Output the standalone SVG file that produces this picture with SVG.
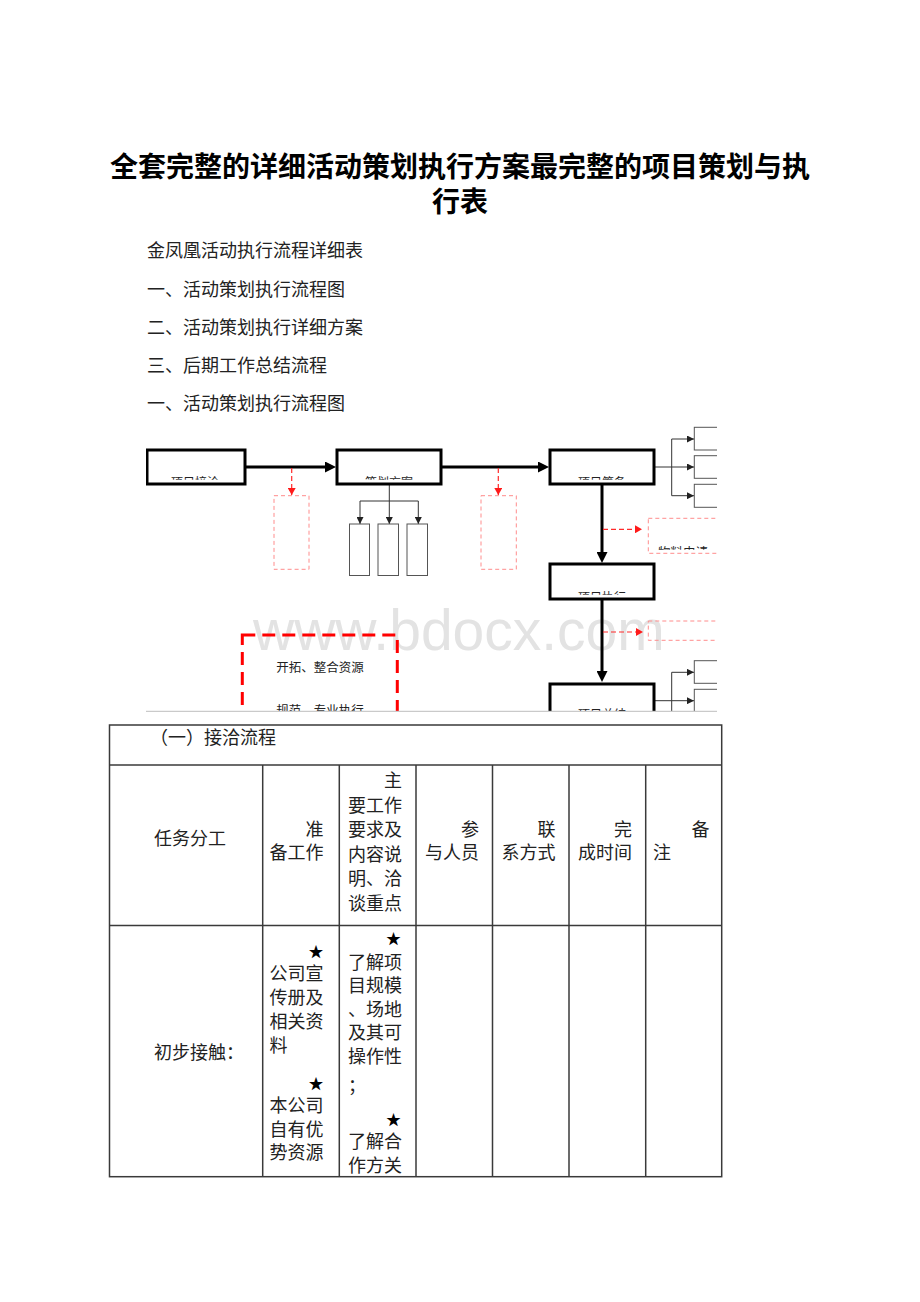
<svg xmlns="http://www.w3.org/2000/svg" width="920" height="1302" viewBox="0 0 920 1302">
<style>
.cjk{font-family:"Noto Sans CJK SC","Noto Sans",sans-serif;}
.title{font-size:28px;font-weight:700;fill:#000;text-anchor:middle;}
.body{font-size:18px;fill:#222;}
.td{font-size:18px;fill:#222;}
.end{text-anchor:end;}
.star{font-size:15px;fill:#000;text-anchor:end;}
.box{fill:#fff;stroke:#000;stroke-width:3;}
.sbox{fill:#fff;stroke:#555;stroke-width:1;}
.rbox{fill:none;stroke:#ff8c8c;stroke-width:1;stroke-dasharray:4 3;}
.bigr{fill:none;stroke:#ff0000;stroke-width:3;stroke-dasharray:13 7;}
.thick{stroke:#000;stroke-width:3;fill:none;}
.thin{stroke:#333;stroke-width:1;fill:none;}
.rdash{stroke:#ff2a2a;stroke-width:1.2;stroke-dasharray:5 3;fill:none;}
.btxt{font-size:12px;fill:#222;text-anchor:middle;}
.rtxt{font-size:12.5px;fill:#222;text-anchor:middle;}
.grid{stroke:#3a3a3a;stroke-width:1.5;fill:none;}
</style>
<defs>
<marker id="mThick" markerUnits="userSpaceOnUse" markerWidth="11" markerHeight="11" refX="6" refY="5.5" orient="auto"><path d="M0,0 L11,5.5 L0,11 z" fill="#000"/></marker>
<marker id="mThin" markerUnits="userSpaceOnUse" markerWidth="7" markerHeight="7" refX="7" refY="3.5" orient="auto"><path d="M0,0 L7,3.5 L0,7 z" fill="#222"/></marker>
<marker id="mRed" markerUnits="userSpaceOnUse" markerWidth="7" markerHeight="8" refX="7" refY="4" orient="auto"><path d="M0,0 L7,4 L0,8 z" fill="#ff1a1a"/></marker>
<clipPath id="clipFlow"><rect x="146" y="400" width="571" height="311"/></clipPath>
<clipPath id="cb1"><rect x="148" y="451" width="96" height="28.8"/></clipPath>
<clipPath id="cb2"><rect x="338" y="451" width="102" height="28.8"/></clipPath>
<clipPath id="cb3"><rect x="551" y="451" width="102" height="28.8"/></clipPath>
<clipPath id="cb4"><rect x="551" y="565" width="102" height="29.8"/></clipPath>
<clipPath id="cb5"><rect x="551" y="685" width="102" height="40"/></clipPath>
<clipPath id="crb3"><rect x="649" y="519" width="80" height="30.8"/></clipPath>
</defs>
<rect width="920" height="1302" fill="#fff"/>

<g id="header-text" class="cjk">
<text class="title" x="460" y="177">全套完整的详细活动策划执行方案最完整的项目策划与执</text>
<text class="title" x="460" y="212">行表</text>
<text class="body" x="147" y="257">金凤凰活动执行流程详细表</text>
<text class="body" x="147" y="295.5">一、活动策划执行流程图</text>
<text class="body" x="147" y="333.5">二、活动策划执行详细方案</text>
<text class="body" x="147" y="371.5">三、后期工作总结流程</text>
<text class="body" x="147" y="409.5">一、活动策划执行流程图</text>
</g>

<g id="flowchart" clip-path="url(#clipFlow)">
<text id="watermark" x="253" y="650" font-family="Liberation Sans, Arial, sans-serif" font-size="57" fill="#e3e3e3">www.bdocx.com</text>

<g id="connectors">
<line class="thick" x1="246" y1="467" x2="331" y2="467" marker-end="url(#mThick)"/>
<line class="thick" x1="442" y1="467" x2="544" y2="467" marker-end="url(#mThick)"/>
<line class="thick" x1="602" y1="485" x2="602" y2="558" marker-end="url(#mThick)"/>
<line class="thick" x1="602" y1="600" x2="602" y2="677" marker-end="url(#mThick)"/>
<line class="rdash" x1="291.7" y1="468" x2="291.7" y2="495" marker-end="url(#mRed)"/>
<line class="rdash" x1="498.3" y1="468" x2="498.3" y2="495" marker-end="url(#mRed)"/>
<line class="rdash" x1="603" y1="529.3" x2="642" y2="529.3" marker-end="url(#mRed)"/>
<line class="rdash" x1="603" y1="632" x2="643" y2="632" marker-end="url(#mRed)"/>
<polyline class="thin" points="389.3,485 389.3,501"/>
<polyline class="thin" points="360,501 418.3,501"/>
<line class="thin" x1="360" y1="501" x2="360" y2="524" marker-end="url(#mThin)"/>
<line class="thin" x1="389.3" y1="501" x2="389.3" y2="524" marker-end="url(#mThin)"/>
<line class="thin" x1="418.3" y1="501" x2="418.3" y2="524" marker-end="url(#mThin)"/>
<polyline class="thin" points="655,467 671.7,467"/>
<polyline class="thin" points="671.7,439 671.7,495.7"/>
<line class="thin" x1="671.7" y1="439" x2="694" y2="439" marker-end="url(#mThin)"/>
<line class="thin" x1="671.7" y1="467" x2="694" y2="467" marker-end="url(#mThin)"/>
<line class="thin" x1="671.7" y1="495.7" x2="694" y2="495.7" marker-end="url(#mThin)"/>
<polyline class="thin" points="655,700.7 671.7,700.7"/>
<polyline class="thin" points="671.7,672.3 671.7,720"/>
<line class="thin" x1="671.7" y1="672.3" x2="694" y2="672.3" marker-end="url(#mThin)"/>
<line class="thin" x1="671.7" y1="700.7" x2="694" y2="700.7" marker-end="url(#mThin)"/>
</g>

<g id="node-jieqia">
<rect class="box" x="147" y="450" width="98" height="34"/>
<text class="cjk btxt" x="195" y="487" clip-path="url(#cb1)">项目接洽</text>
</g>
<g id="node-cehua">
<rect class="box" x="337" y="450" width="104" height="34"/>
<text class="cjk btxt" x="389" y="487" clip-path="url(#cb2)">策划方案</text>
</g>
<g id="node-choubei">
<rect class="box" x="550" y="450" width="104" height="34"/>
<text class="cjk btxt" x="602" y="487" clip-path="url(#cb3)">项目筹备</text>
</g>
<g id="node-zhixing">
<rect class="box" x="550" y="564" width="104" height="35"/>
<text class="cjk btxt" x="602" y="602" clip-path="url(#cb4)">项目执行</text>
</g>
<g id="node-zongjie">
<rect class="box" x="550" y="684" width="104" height="45"/>
<text class="cjk btxt" x="602" y="719" clip-path="url(#cb5)">项目总结</text>
</g>
<g id="node-red1"><rect class="rbox" x="274" y="495.7" width="35" height="73.6"/></g>
<g id="node-red2"><rect class="rbox" x="481" y="495.7" width="35.3" height="73.6"/></g>
<g id="node-wuliao">
<rect class="rbox" x="648.3" y="518.3" width="90" height="35"/>
<text class="cjk rtxt" x="683" y="557" clip-path="url(#crb3)">物料申请</text>
</g>
<g id="node-red4"><rect class="rbox" x="648.3" y="621" width="90" height="19.3"/></g>
<g id="node-sub1"><rect class="sbox" x="349.5" y="524" width="20" height="51.5"/></g>
<g id="node-sub2"><rect class="sbox" x="378" y="524" width="20.5" height="51.5"/></g>
<g id="node-sub3"><rect class="sbox" x="407" y="524" width="20.5" height="51.5"/></g>
<g id="node-r1"><rect class="sbox" x="694.3" y="427.3" width="40" height="22.7"/></g>
<g id="node-r2"><rect class="sbox" x="694.3" y="455.7" width="40" height="22.6"/></g>
<g id="node-r3"><rect class="sbox" x="694.3" y="484.3" width="40" height="23"/></g>
<g id="node-r4"><rect class="sbox" x="694.3" y="660.7" width="40" height="22.6"/></g>
<g id="node-r5"><rect class="sbox" x="694.3" y="689.3" width="40" height="30"/></g>
<g id="node-resource">
<rect class="bigr" x="242.3" y="635" width="155" height="120"/>
<text class="cjk rtxt" x="320" y="672">开拓、整合资源</text>
<text class="cjk rtxt" x="320" y="715">规范、专业执行</text>
</g>
</g>
<line x1="146" y1="711.3" x2="717" y2="711.3" stroke="#bdbdbd" stroke-width="1"/>

<g id="table">
<rect class="grid" x="109.5" y="725" width="612.2" height="451.7"/>
<line class="grid" x1="109.5" y1="765" x2="721.7" y2="765"/>
<line class="grid" x1="109.5" y1="925.5" x2="721.7" y2="925.5"/>
<line class="grid" x1="262.7" y1="765" x2="262.7" y2="1176.7"/>
<line class="grid" x1="339.3" y1="765" x2="339.3" y2="1176.7"/>
<line class="grid" x1="416" y1="765" x2="416" y2="1176.7"/>
<line class="grid" x1="492.5" y1="765" x2="492.5" y2="1176.7"/>
<line class="grid" x1="569" y1="765" x2="569" y2="1176.7"/>
<line class="grid" x1="645.7" y1="765" x2="645.7" y2="1176.7"/>
<g class="cjk td">
<text x="150" y="744">（一）接洽流程</text>
<text x="154" y="845">任务分工</text>
<text class="end" x="323.5" y="835.5">准</text>
<text x="269.5" y="859">备工作</text>
<text class="end" x="402" y="787">主</text>
<text x="348" y="811.5">要工作</text>
<text x="348" y="836">要求及</text>
<text x="348" y="860.5">内容说</text>
<text x="348" y="885">明、洽</text>
<text x="348" y="909.5">谈重点</text>
<text class="end" x="479" y="835.5">参</text>
<text x="425" y="859">与人员</text>
<text class="end" x="555.5" y="835.5">联</text>
<text x="501.5" y="859">系方式</text>
<text class="end" x="632" y="835.5">完</text>
<text x="578" y="859">成时间</text>
<text class="end" x="709.5" y="835.5">备</text>
<text x="653" y="859">注</text>
<text x="154" y="1058.5">初步接触：</text>
<text class="star" x="323.5" y="956.5">★</text>
<text x="269.5" y="980">公司宣</text>
<text x="269.5" y="1004">传册及</text>
<text x="269.5" y="1028">相关资</text>
<text x="269.5" y="1052">料</text>
<text class="star" x="323.5" y="1089">★</text>
<text x="269.5" y="1112">本公司</text>
<text x="269.5" y="1135.5">自有优</text>
<text x="269.5" y="1159">势资源</text>
<text class="star" x="401" y="944">★</text>
<text x="348" y="968.5">了解项</text>
<text x="348" y="992">目规模</text>
<text x="348" y="1015.5">、场地</text>
<text x="348" y="1039">及其可</text>
<text x="348" y="1063">操作性</text>
<text x="348" y="1092">；</text>
<text class="star" x="401" y="1125">★</text>
<text x="348" y="1148">了解合</text>
<text x="348" y="1172">作方关</text>
</g>
</g>
</svg>
